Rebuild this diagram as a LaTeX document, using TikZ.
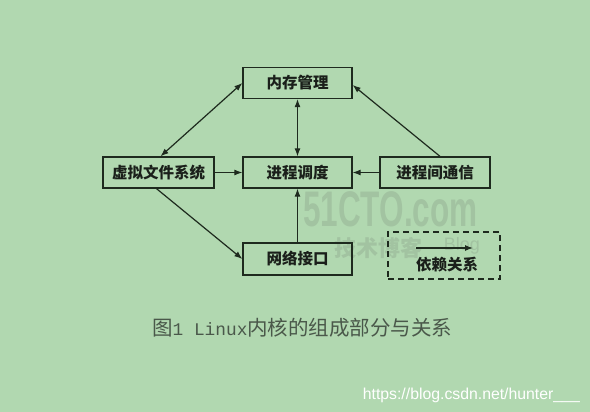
\documentclass[tikz,border=0pt]{standalone}
\usepackage{fontspec}
\setmainfont{Liberation Serif}
\newfontfamily\cjk{Noto Sans CJK SC}
\newfontfamily\capmono{Liberation Mono}
\newfontfamily\wmfont{Liberation Sans}
\usetikzlibrary{arrows.meta}
\definecolor{bg}{HTML}{B1D8B0}
\definecolor{linec}{HTML}{1E2A1E}
\definecolor{txtc}{HTML}{1A1F1A}
\definecolor{capc}{HTML}{4A584A}
\definecolor{wmc}{HTML}{A2C3A1}
\begin{document}
\begin{tikzpicture}[x=1pt,y=-1pt,
  box/.style={draw=linec, line width=1.3pt, minimum width=109pt, minimum height=31pt, inner sep=0pt,
    font=\cjk\bfseries\fontsize{15.5}{16}\selectfont, text=txtc},
  arr/.style={draw=linec, line width=1.2pt, -{Latex[length=8pt,width=6pt]}},
  darr/.style={draw=linec, line width=1.2pt, {Latex[length=8pt,width=6pt]}-{Latex[length=8pt,width=6pt]}},
  legbox/.style={draw=linec, dash pattern=on 6pt off 4pt, line width=1.3pt, minimum width=112pt, minimum height=47pt, inner sep=0pt}]
\fill[bg] (0,0) rectangle (590,412);
\useasboundingbox (0,0) rectangle (590,412);
% watermark
\node[anchor=base west, inner sep=0pt, text=wmc, font=\wmfont\bfseries\fontsize{50}{50}\selectfont, xscale=0.63] (wm) at (303,226) {51CTO.com};
\node[anchor=base west, inner sep=0pt, text=wmc, font=\cjk\bfseries\fontsize{22}{22}\selectfont] (wm2) at (334,256) {技术博客};
\node[anchor=base, inner sep=0pt, text=wmc, font=\wmfont\fontsize{18}{18}\selectfont] (wm3) at (462,250) {Blog};
% boxes
\node[box] (mem) at (297.5,83) {内存管理};
\node[box, minimum width=111pt] (vfs) at (158.5,172.5) {虚拟文件系统};
\node[box] (sched) at (297.5,172.5) {进程调度};
\node[box, minimum width=110pt] (ipc) at (435,172.5) {进程间通信};
\node[box, minimum height=32pt] (net) at (297.5,259) {网络接口};
\node[legbox] (leg) at (444,255.5) {};
\coordinate (la) at (416,248);
\coordinate (lb) at (473,248);
\draw[arr] (la) -- (lb);
\node[inner sep=0pt, font=\cjk\bfseries\fontsize{15.5}{16}\selectfont, text=txtc] (legt) at (447,265) {依赖关系};
% connectors
\draw[darr] ([xshift=2pt]vfs.north) -- (mem.west);
\draw[darr] (mem.south) -- (sched.north);
\draw[arr] (vfs.east) -- (sched.west);
\draw[arr] (ipc.west) -- (sched.east);
\draw[arr] ([xshift=5pt]ipc.north) -- ([yshift=-2pt]mem.east);
\draw[arr] ([xshift=-2pt]vfs.south) -- (net.west);
\draw[arr] (net.north) -- (sched.south);
% caption
\node[anchor=base west, inner sep=0pt, text=capc, font=\cjk\fontsize{20.5}{22}\selectfont] (cap) at (152,335) {图{\capmono\fontsize{17.8}{22}\selectfont 1 Linux}内核的组成部分与关系};
\node[anchor=base east, inner sep=0pt, text=white, font=\wmfont\fontsize{15.8}{17}\selectfont] (url) at (580,399) {https://blog.csdn.net/hunter\_\_\_};
\end{tikzpicture}
\end{document}
